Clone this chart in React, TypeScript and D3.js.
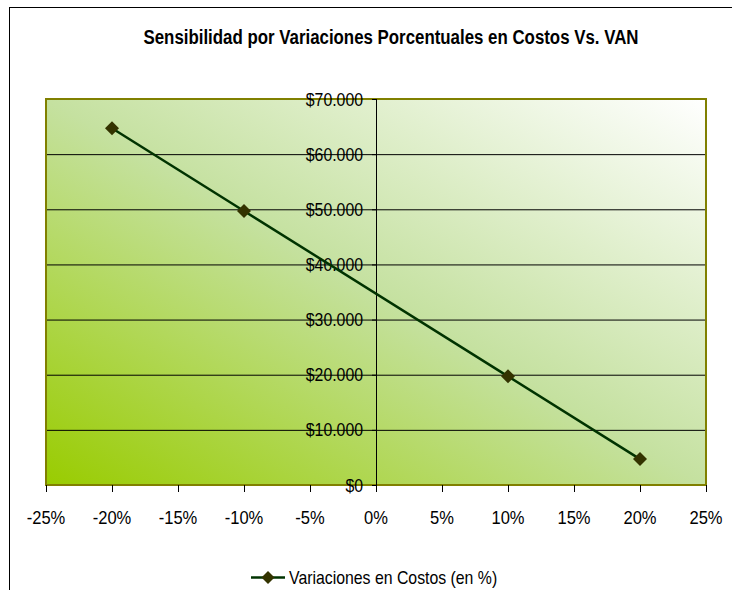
import React from "react";
import * as d3 from "d3";

const xValues = [-20, -10, 10, 20];
const vanValues = [64700, 49700, 19700, 4700];
const xTicks = [-25, -20, -15, -10, -5, 0, 5, 10, 15, 20, 25];
const yTicks = [0, 10000, 20000, 30000, 40000, 50000, 60000, 70000];
const title = "Sensibilidad por Variaciones Porcentuales en Costos Vs. VAN";
const seriesName = "Variaciones en Costos (en %)";

const W = 732, H = 590;
const plot = { left: 46, right: 706, top: 99, bottom: 485 };
const font = "'Liberation Sans Narrow', 'Arial Narrow', 'Liberation Sans', Arial, sans-serif";
const SX = 0.88;

export default function App() {
  const x = d3.scaleLinear().domain([-25, 25]).range([plot.left, plot.right]);
  const y = d3.scaleLinear().domain([0, 70000]).range([plot.bottom, plot.top]);
  const fmtY = (v: number) => "$" + d3.format(",")(v).replace(/,/g, ".");
  const line = d3.line<number>().x((_, i) => x(xValues[i])).y((d) => y(d));
  const diamond = (cx: number, cy: number, r: number) =>
    `M${cx},${cy - r}L${cx + r},${cy}L${cx},${cy + r}L${cx - r},${cy}Z`;

  return (
    <svg width={W} height={H} style={{ position: "absolute", left: 0, top: 0 }}>
      <defs>
        <linearGradient id="bg" x1="0" y1="1" x2="1" y2="0">
          <stop offset="0" stopColor="#99cc00" />
          <stop offset="0.5" stopColor="#c5e1a0" />
          <stop offset="1" stopColor="#ffffff" />
        </linearGradient>
      </defs>
      <rect x={0} y={0} width={W} height={H} fill="#fff" />
      <rect x={9.5} y={7.5} width={W + 10} height={H + 10} fill="none" stroke="#000" strokeWidth={1} />
      <text x={391} y={44} textAnchor="middle" fontFamily={font} fontWeight="bold" fontSize={20} textLength={495} lengthAdjust="spacingAndGlyphs">{title}</text>

      <rect x={plot.left} y={plot.top} width={plot.right - plot.left} height={plot.bottom - plot.top} fill="url(#bg)" />
      {yTicks.slice(1, -1).map((t) => (
        <line key={t} x1={plot.left} x2={plot.right} y1={y(t) + 0.5} y2={y(t) + 0.5} stroke="#000" strokeWidth={1} />
      ))}
      <rect x={plot.left} y={plot.top} width={plot.right - plot.left} height={plot.bottom - plot.top} fill="none" stroke="#808000" strokeWidth={2} />

      {/* y axis at x=0 */}
      <line x1={x(0) + 0.5} x2={x(0) + 0.5} y1={plot.top} y2={plot.bottom} stroke="#000" />
      {yTicks.map((t) => (
        <g key={t}>
          <line x1={x(0) - 4} x2={x(0) + 0.5} y1={y(t) + 0.5} y2={y(t) + 0.5} stroke="#000" />
          <text transform={`translate(363,${y(t) + 6.5}) scale(${SX},1)`} textAnchor="end" fontFamily={font} fontSize={18} fill="#000">{fmtY(t)}</text>
        </g>
      ))}

      {/* x axis ticks */}
      {xTicks.map((t) => (
        <g key={t}>
          <line x1={Math.round(x(t)) + 0.5} x2={Math.round(x(t)) + 0.5} y1={plot.bottom} y2={plot.bottom + 7} stroke="#000" />
          <text transform={`translate(${x(t)},524) scale(0.92,1)`} textAnchor="middle" fontFamily={font} fontSize={18} fill="#000">{t + "%"}</text>
        </g>
      ))}

      <path d={line(vanValues) || ""} fill="none" stroke="#003300" strokeWidth={2.5} />
      {vanValues.map((v, i) => (
        <path key={i} d={diamond(x(xValues[i]), y(v), 7)} fill="#333300" />
      ))}

      {/* legend */}
      <line x1={251} x2={285} y1={577.5} y2={577.5} stroke="#003300" strokeWidth={2.5} />
      <path d={diamond(268, 577.5, 6.5)} fill="#333300" />
      <text transform={`translate(289,584) scale(${SX},1)`} fontFamily={font} fontSize={18} fill="#000">{seriesName}</text>
    </svg>
  );
}
